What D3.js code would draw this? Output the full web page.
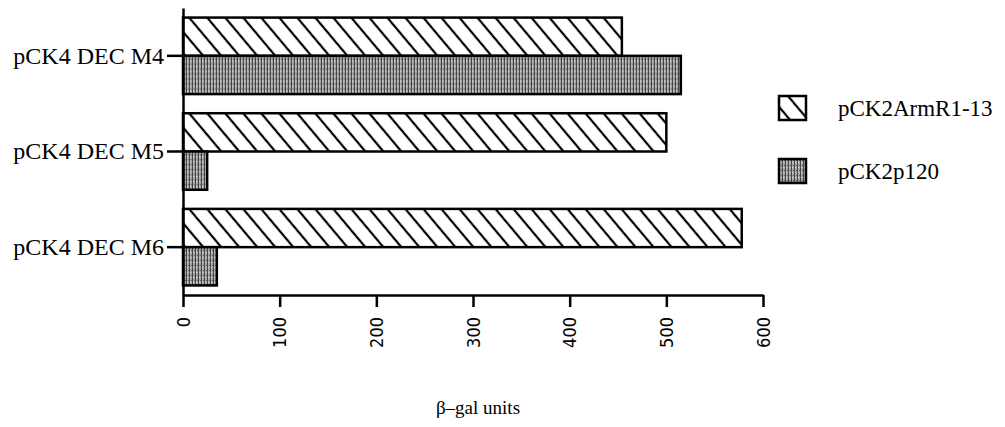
<!DOCTYPE html>
<html>
<head>
<meta charset="utf-8">
<script src="https://cdn.jsdelivr.net/npm/d3@7"></script>
<style>
  html, body { margin: 0; padding: 0; background: #fff; }
  svg { display: block; }
</style>
</head>
<body>
<div id="chart"></div>
<script>
// values (beta-gal units)
const categories = ["pCK4 DEC M4", "pCK4 DEC M5", "pCK4 DEC M6"];
const seriesNames = ["pCK2ArmR1-13", "pCK2p120"];
const armValues = [454, 500, 578];
const p120Values = [515, 25, 35];
const xTicks = [0, 100, 200, 300, 400, 500, 600];

const width = 1005, height = 427;

const svg = d3.select("#chart").append("svg")
    .attr("width", width)
    .attr("height", height);

// patterns
const defs = svg.append("defs");
const hatch = defs.append("pattern")
    .attr("id", "hatch")
    .attr("patternUnits", "userSpaceOnUse")
    .attr("width", 13.8)
    .attr("height", 10)
    .attr("patternTransform", "rotate(-40)");
hatch.append("rect").attr("width", 13.8).attr("height", 10).attr("fill", "#fff");
hatch.append("line")
    .attr("x1", 6.9).attr("y1", 0).attr("x2", 6.9).attr("y2", 10)
    .attr("stroke", "#000").attr("stroke-width", 2.2);

const stipple = defs.append("pattern")
    .attr("id", "stipple")
    .attr("patternUnits", "userSpaceOnUse")
    .attr("width", 3)
    .attr("height", 5);
stipple.append("rect").attr("width", 3).attr("height", 5).attr("fill", "#a8a8a8");
stipple.append("rect").attr("x", 0).attr("width", 1).attr("height", 5).attr("fill", "#444");
stipple.append("rect").attr("x", 2).attr("y", 1).attr("width", 1).attr("height", 1).attr("fill", "#5e5e5e");
stipple.append("rect").attr("x", 1).attr("y", 3).attr("width", 1).attr("height", 1).attr("fill", "#e0e0e0");

const fills = { "pCK2ArmR1-13": "url(#hatch)", "pCK2p120": "url(#stipple)" };

// scales
const x = d3.scaleLinear().domain([0, 600]).range([183, 763]);
const y = d3.scaleBand().domain(categories).range([8, 295])
    .paddingInner(0.2).paddingOuter(0.1);
const ySub = d3.scaleBand().domain(seriesNames).range([0, y.bandwidth()]);

const rows = categories.map((c, i) => ({
    cat: c,
    vals: [
        { s: seriesNames[0], v: armValues[i] },
        { s: seriesNames[1], v: p120Values[i] }
    ]
}));

// bars
const groups = svg.append("g").selectAll("g")
    .data(rows)
    .join("g")
    .attr("transform", d => `translate(0,${y(d.cat)})`);

groups.selectAll("rect")
    .data(d => d.vals)
    .join("rect")
    .attr("x", x(0))
    .attr("y", d => ySub(d.s))
    .attr("width", d => x(d.v) - x(0))
    .attr("height", ySub.bandwidth())
    .attr("fill", d => fills[d.s])
    .attr("stroke", "#000")
    .attr("stroke-width", 2.5);

// y axis
const yAxis = svg.append("g")
    .attr("transform", `translate(${x(0)},0)`)
    .call(d3.axisLeft(y).tickSize(16).tickSizeOuter(0).tickPadding(3));
yAxis.select(".domain").attr("stroke-width", 2.5);
yAxis.selectAll(".tick line").attr("stroke-width", 2.5);
yAxis.selectAll(".tick text")
    .attr("font-family", "'Liberation Serif', 'Times New Roman', serif")
    .attr("font-size", 24)
    .attr("fill", "#000");

// x axis
const xAxis = svg.append("g")
    .attr("transform", `translate(0,295)`)
    .call(d3.axisBottom(x).tickValues(xTicks).tickSize(12).tickSizeOuter(0));
xAxis.select(".domain").attr("stroke-width", 2.5);
xAxis.selectAll(".tick line").attr("stroke-width", 2.5);
xAxis.selectAll(".tick text")
    .attr("transform", "rotate(-90)")
    .attr("x", -22)
    .attr("y", 0)
    .attr("dy", "0.35em")
    .attr("text-anchor", "end")
    .attr("font-family", "'DejaVu Sans Condensed', 'Liberation Sans', sans-serif")
    .attr("font-size", 18)
    .attr("fill", "#000");

// axis title
svg.append("text")
    .attr("x", 478)
    .attr("y", 414)
    .attr("text-anchor", "middle")
    .attr("font-family", "'Liberation Serif', 'Times New Roman', serif")
    .attr("font-size", 19)
    .text("β\u2013gal units");

// legend
const legendY = [96, 159];
const legend = svg.append("g").selectAll("g")
    .data(seriesNames)
    .join("g")
    .attr("transform", (d, i) => `translate(779,${legendY[i]})`);
legend.append("rect")
    .attr("width", 27)
    .attr("height", 24)
    .attr("fill", d => fills[d])
    .attr("stroke", "#000")
    .attr("stroke-width", 2.5);
legend.append("text")
    .attr("x", 59)
    .attr("y", 12)
    .attr("dy", "0.35em")
    .attr("font-family", "'Liberation Serif', 'Times New Roman', serif")
    .attr("font-size", 23)
    .text(d => d);
</script>
</body>
</html>
